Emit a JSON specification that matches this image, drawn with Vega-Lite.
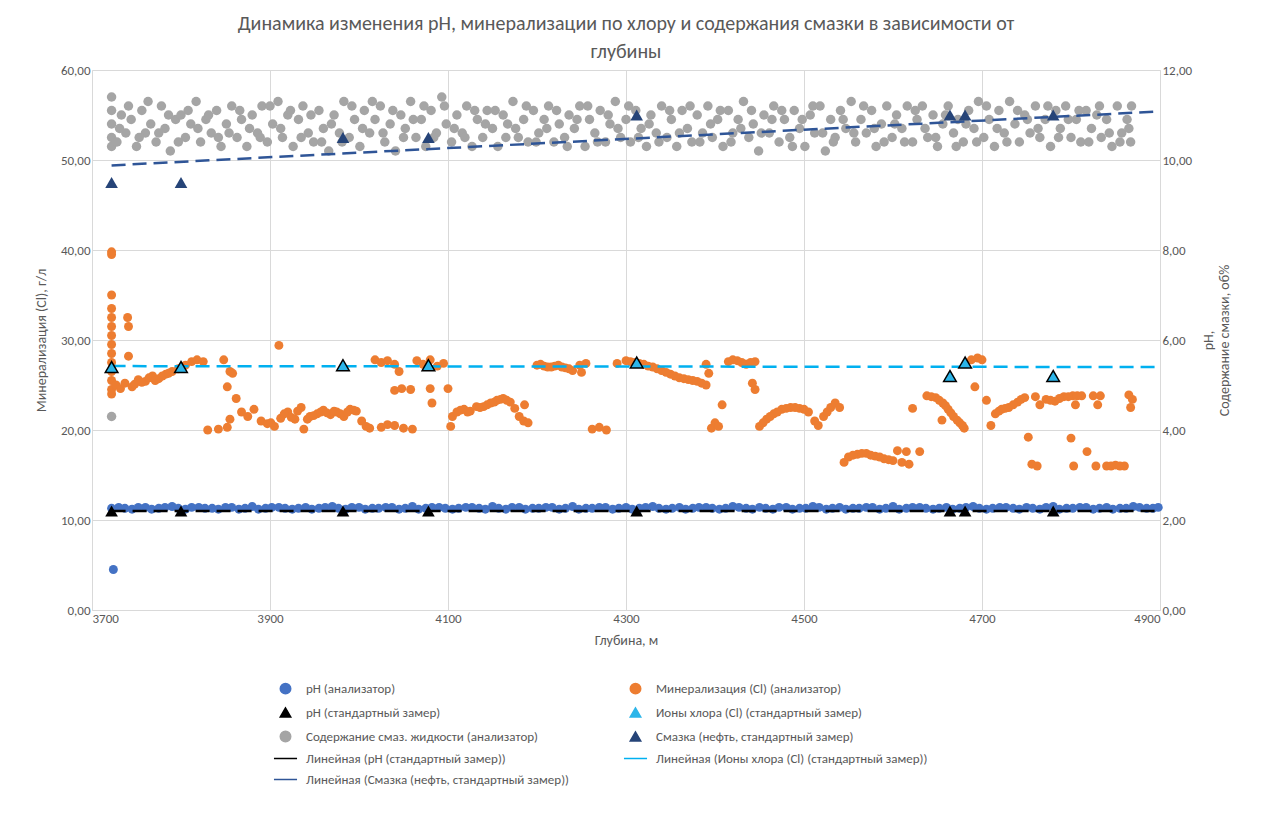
{
  "$schema": "https://vega.github.io/schema/vega-lite/v6.json",
  "width": 1068,
  "height": 540,
  "autosize": {"type": "none"},
  "padding": {"left": 92, "top": 70, "right": 120, "bottom": 222},
  "background": "white",
  "config": {
    "font": "Calibri, Liberation Sans, sans-serif",
    "view": {"stroke": null},
    "axis": {"labelColor": "#595959", "titleColor": "#595959", "labelFontSize": 13, "titleFontSize": 14, "titleFontWeight": "normal", "domainColor": "#D9D9D9", "tickColor": "#D9D9D9", "gridColor": "#D9D9D9", "ticks": false},
    "legend": {"orient": "none", "legendX": 187, "legendY": 612, "columns": 2, "columnPadding": 50, "rowPadding": 7, "labelFontSize": 13, "labelColor": "#595959", "labelLimit": 400, "symbolSize": 110, "labelOffset": 14, "title": null}
  },
  "title": {
    "text": ["Динамика изменения pH, минерализации по хлору и содержания смазки в зависимости от", "глубины"],
    "fontSize": 20, "fontWeight": "normal", "color": "#595959", "lineHeight": 28, "offset": 2, "anchor": "middle"
  },
  "datasets": {
    "ph": [
      {"d":3722,"v":11.3},{"d":3724,"v":4.5},{"d":3730,"v":11.4},{"d":3745,"v":11.2},{"d":3760,"v":11.4},{"d":3775,"v":11.3},{"d":3790,"v":11.5},{"d":3805,"v":11.2},{"d":3820,"v":11.4},{"d":3835,"v":11.3},{"d":3850,"v":11.4},{"d":3865,"v":11.2},{"d":3880,"v":11.5},{"d":3895,"v":11.3},{"d":3910,"v":11.4},{"d":3925,"v":11.2},{"d":3940,"v":11.4},{"d":3955,"v":11.3},{"d":3970,"v":11.5},{"d":3985,"v":11.2},{"d":4000,"v":11.4},{"d":4015,"v":11.3},{"d":4030,"v":11.4},{"d":4045,"v":11.2},{"d":4060,"v":11.5},{"d":4075,"v":11.3},{"d":4090,"v":11.4},{"d":4105,"v":11.2},{"d":4120,"v":11.4},{"d":4135,"v":11.3},{"d":4150,"v":11.5},{"d":4165,"v":11.2},{"d":4180,"v":11.4},{"d":4195,"v":11.3},{"d":4210,"v":11.4},{"d":4225,"v":11.2},{"d":4240,"v":11.5},{"d":4255,"v":11.3},{"d":4270,"v":11.4},{"d":4285,"v":11.2},{"d":4300,"v":11.4},{"d":4315,"v":11.3},{"d":4330,"v":11.5},{"d":4345,"v":11.2},{"d":4360,"v":11.4},{"d":4375,"v":11.3},{"d":4390,"v":11.4},{"d":4405,"v":11.2},{"d":4420,"v":11.5},{"d":4435,"v":11.3},{"d":4450,"v":11.4},{"d":4465,"v":11.2},{"d":4480,"v":11.4},{"d":4495,"v":11.3},{"d":4510,"v":11.5},{"d":4525,"v":11.2},{"d":4540,"v":11.4},{"d":4555,"v":11.3},{"d":4570,"v":11.4},{"d":4585,"v":11.2},{"d":4600,"v":11.5},{"d":4615,"v":11.3},{"d":4630,"v":11.4},{"d":4645,"v":11.2},{"d":4660,"v":11.4},{"d":4675,"v":11.3},{"d":4690,"v":11.5},{"d":4705,"v":11.2},{"d":4720,"v":11.4},{"d":4735,"v":11.3},{"d":4750,"v":11.4},{"d":4765,"v":11.2},{"d":4780,"v":11.5},{"d":4795,"v":11.3},{"d":4810,"v":11.4},{"d":4825,"v":11.2},{"d":4840,"v":11.4},{"d":4855,"v":11.3},{"d":4870,"v":11.5},{"d":4885,"v":11.3},{"d":4898,"v":11.4},
      {"d":3737,"v":11.3},{"d":3752,"v":11.4},{"d":3767,"v":11.2},{"d":3782,"v":11.4},{"d":3797,"v":11.3},{"d":3812,"v":11.4},{"d":3827,"v":11.3},{"d":3842,"v":11.2},{"d":3857,"v":11.4},{"d":3872,"v":11.3},{"d":3887,"v":11.2},{"d":3902,"v":11.4},{"d":3917,"v":11.3},{"d":3932,"v":11.3},{"d":3947,"v":11.2},{"d":3962,"v":11.4},{"d":3977,"v":11.3},{"d":3992,"v":11.4},{"d":4007,"v":11.2},{"d":4022,"v":11.3},{"d":4037,"v":11.4},{"d":4052,"v":11.3},{"d":4067,"v":11.2},{"d":4082,"v":11.4},{"d":4097,"v":11.3},{"d":4112,"v":11.3},{"d":4127,"v":11.4},{"d":4142,"v":11.2},{"d":4157,"v":11.3},{"d":4172,"v":11.4},{"d":4187,"v":11.2},{"d":4202,"v":11.3},{"d":4217,"v":11.4},{"d":4232,"v":11.3},{"d":4247,"v":11.2},{"d":4262,"v":11.3},{"d":4277,"v":11.4},{"d":4292,"v":11.3},{"d":4307,"v":11.2},{"d":4322,"v":11.4},{"d":4337,"v":11.3},{"d":4352,"v":11.3},{"d":4367,"v":11.2},{"d":4382,"v":11.4},{"d":4397,"v":11.3},{"d":4412,"v":11.3},{"d":4427,"v":11.4},{"d":4442,"v":11.2},{"d":4457,"v":11.3},{"d":4472,"v":11.4},{"d":4487,"v":11.2},{"d":4502,"v":11.3},{"d":4517,"v":11.4},{"d":4532,"v":11.3},{"d":4547,"v":11.2},{"d":4562,"v":11.3},{"d":4577,"v":11.4},{"d":4592,"v":11.3},{"d":4607,"v":11.2},{"d":4622,"v":11.4},{"d":4637,"v":11.3},{"d":4652,"v":11.3},{"d":4667,"v":11.2},{"d":4682,"v":11.4},{"d":4697,"v":11.3},{"d":4712,"v":11.3},{"d":4727,"v":11.4},{"d":4742,"v":11.2},{"d":4757,"v":11.3},{"d":4772,"v":11.4},{"d":4787,"v":11.2},{"d":4802,"v":11.3},{"d":4817,"v":11.4},{"d":4832,"v":11.3},{"d":4847,"v":11.2},{"d":4862,"v":11.3},{"d":4877,"v":11.4},{"d":4892,"v":11.3}
    ],
    "min": [
      {"d":3722,"v":39.8},{"d":3722,"v":39.5},{"d":3722,"v":35},{"d":3722,"v":33.5},{"d":3722,"v":32.5},{"d":3722,"v":31.5},{"d":3722,"v":30.5},{"d":3722,"v":29.5},{"d":3722,"v":28.5},{"d":3722,"v":27.5},{"d":3722,"v":26.5},{"d":3722,"v":25.5},{"d":3722,"v":24.5},{"d":3722,"v":24},
      {"d":3727,"v":25},{"d":3732,"v":24.6},{"d":3737,"v":25.2},{"d":3740,"v":32.5},{"d":3741,"v":31.5},{"d":3741,"v":28.2},{"d":3745,"v":24.8},{"d":3752,"v":25.6},{"d":3760,"v":25.4},{"d":3768,"v":26},{"d":3775,"v":25.7},{"d":3783,"v":26.2},{"d":3790,"v":26.5},{"d":3797,"v":26.8},{"d":3805,"v":27.2},{"d":3812,"v":27.6},{"d":3818,"v":27.8},{"d":3825,"v":27.6},{"d":3830,"v":20},{"d":3842,"v":20.1},{"d":3848,"v":27.8},{"d":3852,"v":20.3},{"d":3855,"v":26.5},{"d":3858,"v":26.3},{"d":3852,"v":24.8},{"d":3855,"v":21.2},{"d":3862,"v":23.5},{"d":3868,"v":22},{"d":3875,"v":21.5},{"d":3882,"v":22.3},{"d":3890,"v":21},{"d":3897,"v":20.7},{"d":3905,"v":20.4},{"d":3910,"v":29.4},{"d":3912,"v":21.3},{"d":3920,"v":22},{"d":3928,"v":21.2},{"d":3935,"v":22.5},{"d":3938,"v":20.1},{"d":3945,"v":21.5},{"d":3953,"v":21.8},{"d":3960,"v":22.2},{"d":3968,"v":21.7},{"d":3975,"v":22},{"d":3983,"v":21.5},{"d":3990,"v":22.3},{"d":3997,"v":22.1},{"d":4003,"v":21},{"d":4008,"v":20.4},{"d":4012,"v":20.2},{"d":4018,"v":27.8},{"d":4025,"v":27.5},{"d":4032,"v":27.7},{"d":4040,"v":27.3},{"d":4045,"v":26.5},{"d":4040,"v":24.4},{"d":4048,"v":24.6},{"d":4058,"v":24.5},{"d":4025,"v":20.3},{"d":4032,"v":20.6},{"d":4040,"v":20.5},{"d":4050,"v":20.2},{"d":4060,"v":20.1},{"d":4065,"v":27.7},{"d":4072,"v":27.3},{"d":4080,"v":27.8},{"d":4080,"v":24.6},{"d":4082,"v":23},{"d":4088,"v":27.1},{"d":4095,"v":27.4},{"d":4100,"v":24.6},{"d":4103,"v":20.4},{"d":4105,"v":21.5},{"d":4110,"v":22},{"d":4118,"v":22.3},{"d":4125,"v":22.1},{"d":4132,"v":22.6},{"d":4140,"v":22.6},{"d":4148,"v":23},{"d":4155,"v":23.3},{"d":4162,"v":23.5},{"d":4170,"v":23.1},{"d":4175,"v":22.4},{"d":4180,"v":21.5},{"d":4185,"v":21},{"d":4190,"v":20.8},{"d":4186,"v":22.8},{"d":4200,"v":27.2},{"d":4208,"v":27.1},{"d":4216,"v":27},{"d":4224,"v":27.2},{"d":4232,"v":26.9},{"d":4240,"v":26.6},{"d":4248,"v":27.2},{"d":4255,"v":27.4},{"d":4250,"v":26.4},{"d":4262,"v":20.1},{"d":4270,"v":20.3},{"d":4278,"v":20},{"d":4290,"v":27.4},{"d":4300,"v":27.7},{"d":4310,"v":27.5},{"d":4320,"v":27.3},{"d":4330,"v":27},{"d":4340,"v":26.6},{"d":4350,"v":26.2},{"d":4360,"v":25.8},{"d":4370,"v":25.6},{"d":4380,"v":25.4},{"d":4390,"v":25},{"d":4390,"v":27.3},{"d":4393,"v":26.3},{"d":4396,"v":20.2},{"d":4400,"v":20.8},{"d":4404,"v":20.4},{"d":4408,"v":22.8},{"d":4415,"v":27.6},{"d":4425,"v":27.7},{"d":4435,"v":27.3},{"d":4445,"v":27.6},{"d":4442,"v":25.2},{"d":4445,"v":24.5},{"d":4450,"v":20.4},{"d":4458,"v":21.2},{"d":4466,"v":21.8},{"d":4475,"v":22.3},{"d":4485,"v":22.5},{"d":4495,"v":22.4},{"d":4505,"v":22},{"d":4512,"v":21},{"d":4516,"v":20.5},{"d":4522,"v":21.5},{"d":4530,"v":22.5},{"d":4535,"v":23},{"d":4540,"v":22.5},{"d":4545,"v":16.4},{"d":4550,"v":17},{"d":4560,"v":17.3},{"d":4570,"v":17.4},{"d":4580,"v":17.1},{"d":4590,"v":16.8},{"d":4600,"v":16.6},{"d":4610,"v":16.4},{"d":4618,"v":16.2},{"d":4605,"v":17.7},{"d":4615,"v":17.6},{"d":4630,"v":17.6},{"d":4622,"v":22.4},{"d":4638,"v":23.8},{"d":4648,"v":23.6},{"d":4656,"v":23},{"d":4662,"v":22.3},{"d":4668,"v":21.5},{"d":4675,"v":20.8},{"d":4680,"v":20.2},{"d":4655,"v":21.1},{"d":4688,"v":27.8},{"d":4695,"v":28},{"d":4700,"v":27.8},{"d":4692,"v":24.8},{"d":4705,"v":23.3},{"d":4710,"v":20.5},{"d":4715,"v":21.8},{"d":4722,"v":22.3},{"d":4730,"v":22.5},{"d":4740,"v":23.1},{"d":4748,"v":23.6},{"d":4752,"v":19.2},{"d":4756,"v":16.2},{"d":4762,"v":16},{"d":4760,"v":23.7},{"d":4765,"v":22.8},{"d":4772,"v":23.4},{"d":4782,"v":23.2},{"d":4792,"v":23.7},{"d":4802,"v":23.8},{"d":4812,"v":23.8},{"d":4805,"v":22.8},{"d":4800,"v":19.1},{"d":4803,"v":16},{"d":4818,"v":17.6},{"d":4825,"v":23.8},{"d":4830,"v":22.8},{"d":4833,"v":23.8},{"d":4828,"v":16},{"d":4840,"v":16},{"d":4850,"v":16.1},{"d":4860,"v":16},{"d":4865,"v":23.9},{"d":4867,"v":22.5},{"d":4869,"v":23.4},
      {"d":3748,"v":25.1},{"d":3756,"v":25.3},{"d":3764,"v":25.8},{"d":3771,"v":25.5},{"d":3779,"v":26},{"d":3786,"v":26.3},{"d":3901,"v":20.8},{"d":3916,"v":21.8},{"d":3924,"v":21.4},{"d":3931,"v":22.1},{"d":3942,"v":21.2},{"d":3949,"v":21.6},{"d":3957,"v":22},{"d":3964,"v":21.9},{"d":3972,"v":22.1},{"d":3979,"v":21.8},{"d":3987,"v":22},{"d":3994,"v":22.2},{"d":4114,"v":22.2},{"d":4122,"v":22},{"d":4136,"v":22.5},{"d":4144,"v":22.8},{"d":4152,"v":23.1},{"d":4159,"v":23.4},{"d":4166,"v":23.3},{"d":4204,"v":27.3},{"d":4212,"v":27},{"d":4220,"v":27.1},{"d":4228,"v":27},{"d":4236,"v":26.8},{"d":4305,"v":27.6},{"d":4315,"v":27.4},{"d":4325,"v":27.1},{"d":4335,"v":26.8},{"d":4345,"v":26.4},{"d":4355,"v":26},{"d":4365,"v":25.7},{"d":4375,"v":25.5},{"d":4385,"v":25.2},{"d":4420,"v":27.8},{"d":4430,"v":27.5},{"d":4440,"v":27.5},{"d":4454,"v":20.8},{"d":4462,"v":21.5},{"d":4470,"v":22},{"d":4480,"v":22.4},{"d":4490,"v":22.5},{"d":4500,"v":22.3},{"d":4526,"v":22},{"d":4555,"v":17.2},{"d":4565,"v":17.4},{"d":4575,"v":17.2},{"d":4585,"v":17},{"d":4595,"v":16.7},{"d":4643,"v":23.7},{"d":4652,"v":23.3},{"d":4659,"v":22.7},{"d":4665,"v":21.9},{"d":4672,"v":21.1},{"d":4678,"v":20.5},{"d":4719,"v":22.1},{"d":4726,"v":22.4},{"d":4735,"v":22.8},{"d":4744,"v":23.4},{"d":4777,"v":23.3},{"d":4787,"v":23.5},{"d":4797,"v":23.7},{"d":4807,"v":23.8},{"d":4845,"v":16},{"d":4855,"v":16}
    ],
    "grey": [
      {"d":3722,"v":11.4},{"d":3722,"v":11.1},{"d":3722,"v":10.8},{"d":3722,"v":10.5},{"d":3722,"v":10.3},{"d":3722,"v":4.3},{"d":3728,"v":10.4},{"d":3733,"v":11.0},{"d":3738,"v":10.6},{"d":3744,"v":10.9},{"d":3750,"v":10.3},{"d":3756,"v":11.1},{"d":3760,"v":10.6},{"d":3766,"v":10.8},{"d":3772,"v":10.4},{"d":3778,"v":11.2},{"d":3782,"v":10.7},{"d":3788,"v":10.2},{"d":3794,"v":10.9},{"d":3800,"v":11.0},{"d":3805,"v":10.5},{"d":3811,"v":10.8},{"d":3817,"v":11.3},{"d":3822,"v":10.4},{"d":3828,"v":10.9},{"d":3834,"v":10.6},{"d":3840,"v":11.1},{"d":3845,"v":10.3},{"d":3851,"v":10.8},{"d":3857,"v":11.2},{"d":3863,"v":10.5},{"d":3868,"v":10.9},{"d":3874,"v":10.3},{"d":3880,"v":11.0},{"d":3886,"v":10.6},{"d":3891,"v":11.2},{"d":3897,"v":10.4},{"d":3903,"v":10.8},{"d":3909,"v":11.3},{"d":3914,"v":10.5},{"d":3920,"v":11.0},{"d":3926,"v":10.3},{"d":3932,"v":10.9},{"d":3937,"v":11.2},{"d":3943,"v":10.6},{"d":3949,"v":10.4},{"d":3955,"v":11.1},{"d":3960,"v":10.7},{"d":3966,"v":10.2},{"d":3972,"v":11.0},{"d":3978,"v":10.6},{"d":3983,"v":11.3},{"d":3989,"v":10.5},{"d":3995,"v":10.9},{"d":4001,"v":10.3},{"d":4006,"v":11.1},{"d":4012,"v":10.6},{"d":4018,"v":10.9},{"d":4024,"v":11.2},{"d":4029,"v":10.4},{"d":4035,"v":10.8},{"d":4041,"v":10.2},{"d":4047,"v":11.0},{"d":4052,"v":10.7},{"d":4058,"v":11.3},{"d":4064,"v":10.5},{"d":4070,"v":10.9},{"d":4075,"v":10.3},{"d":4081,"v":11.1},{"d":4087,"v":10.6},{"d":4093,"v":11.4},{"d":4098,"v":10.8},{"d":4104,"v":10.4},{"d":4110,"v":11.0},{"d":4116,"v":10.6},{"d":4121,"v":11.2},{"d":4127,"v":10.3},{"d":4133,"v":10.9},{"d":4139,"v":10.5},{"d":4144,"v":11.1},{"d":4150,"v":10.7},{"d":4156,"v":10.3},{"d":4162,"v":11.0},{"d":4167,"v":10.8},{"d":4173,"v":11.3},{"d":4179,"v":10.5},{"d":4185,"v":10.9},{"d":4190,"v":10.4},{"d":4196,"v":11.1},{"d":4202,"v":10.6},{"d":4208,"v":10.9},{"d":4213,"v":11.2},{"d":4219,"v":10.4},{"d":4225,"v":10.8},{"d":4231,"v":10.5},{"d":4236,"v":11.0},{"d":4242,"v":10.7},{"d":4248,"v":11.2},{"d":4254,"v":10.3},{"d":4259,"v":10.9},{"d":4265,"v":10.6},{"d":4271,"v":11.1},{"d":4277,"v":10.4},{"d":4282,"v":10.8},{"d":4288,"v":11.3},{"d":4294,"v":10.5},{"d":4300,"v":10.9},{"d":4305,"v":10.4},{"d":4311,"v":11.1},{"d":4317,"v":10.7},{"d":4323,"v":10.3},{"d":4328,"v":11.0},{"d":4334,"v":10.6},{"d":4340,"v":11.2},{"d":4346,"v":10.5},{"d":4351,"v":10.9},{"d":4357,"v":10.3},{"d":4363,"v":11.1},{"d":4369,"v":10.7},{"d":4374,"v":10.4},{"d":4380,"v":11.0},{"d":4386,"v":10.6},{"d":4392,"v":11.2},{"d":4397,"v":10.5},{"d":4403,"v":10.9},{"d":4409,"v":10.3},{"d":4415,"v":11.1},{"d":4420,"v":10.6},{"d":4426,"v":10.9},{"d":4432,"v":11.3},{"d":4438,"v":10.5},{"d":4443,"v":10.8},{"d":4449,"v":10.2},{"d":4455,"v":11.0},{"d":4461,"v":10.6},{"d":4466,"v":11.2},{"d":4472,"v":10.4},{"d":4478,"v":10.9},{"d":4484,"v":10.5},{"d":4489,"v":11.1},{"d":4495,"v":10.7},{"d":4501,"v":10.3},{"d":4507,"v":11.0},{"d":4512,"v":10.6},{"d":4518,"v":11.2},{"d":4524,"v":10.2},{"d":4530,"v":10.9},{"d":4535,"v":10.5},{"d":4541,"v":11.1},{"d":4547,"v":10.7},{"d":4553,"v":11.3},{"d":4558,"v":10.4},{"d":4564,"v":10.9},{"d":4570,"v":10.6},{"d":4576,"v":11.1},{"d":4581,"v":10.3},{"d":4587,"v":10.8},{"d":4593,"v":11.2},{"d":4599,"v":10.5},{"d":4604,"v":11.0},{"d":4610,"v":10.7},{"d":4616,"v":11.2},{"d":4622,"v":10.4},{"d":4627,"v":10.9},{"d":4633,"v":11.2},{"d":4639,"v":10.5},{"d":4645,"v":11.0},{"d":4650,"v":10.3},{"d":4656,"v":10.8},{"d":4662,"v":11.2},{"d":4668,"v":10.6},{"d":4673,"v":10.9},{"d":4679,"v":10.4},{"d":4685,"v":11.1},{"d":4691,"v":10.7},{"d":4696,"v":11.3},{"d":4702,"v":10.5},{"d":4708,"v":10.9},{"d":4714,"v":10.3},{"d":4719,"v":11.1},{"d":4725,"v":10.6},{"d":4731,"v":11.3},{"d":4737,"v":10.8},{"d":4742,"v":10.4},{"d":4748,"v":11.0},{"d":4754,"v":10.6},{"d":4760,"v":11.2},{"d":4765,"v":10.5},{"d":4771,"v":10.9},{"d":4777,"v":10.3},{"d":4783,"v":11.1},{"d":4788,"v":10.7},{"d":4794,"v":11.2},{"d":4800,"v":10.5},{"d":4806,"v":10.9},{"d":4811,"v":10.4},{"d":4817,"v":11.1},{"d":4823,"v":10.7},{"d":4829,"v":11.0},{"d":4834,"v":10.5},{"d":4840,"v":10.9},{"d":4846,"v":10.3},{"d":4852,"v":11.2},{"d":4857,"v":10.6},{"d":4863,"v":10.9},{"d":4867,"v":10.4},{"d":4868,"v":11.2},
      {"d":3731,"v":10.7},{"d":3741,"v":11.2},{"d":3753,"v":10.5},{"d":3763,"v":11.3},{"d":3775,"v":10.6},{"d":3786,"v":11.0},{"d":3797,"v":10.4},{"d":3808,"v":11.1},{"d":3819,"v":10.7},{"d":3831,"v":11.0},{"d":3842,"v":10.5},{"d":3854,"v":10.6},{"d":3866,"v":11.1},{"d":3877,"v":10.7},{"d":3889,"v":10.5},{"d":3900,"v":11.2},{"d":3912,"v":10.7},{"d":3923,"v":11.1},{"d":3935,"v":10.5},{"d":3946,"v":11.0},{"d":3958,"v":10.4},{"d":3969,"v":10.8},{"d":3981,"v":10.4},{"d":3992,"v":11.2},{"d":4004,"v":10.7},{"d":4015,"v":11.3},{"d":4027,"v":10.6},{"d":4038,"v":11.1},{"d":4050,"v":10.5},{"d":4061,"v":10.9},{"d":4073,"v":11.2},{"d":4084,"v":10.5},{"d":4096,"v":11.2},{"d":4107,"v":10.7},{"d":4119,"v":10.5},{"d":4130,"v":11.1},{"d":4142,"v":10.8},{"d":4153,"v":11.1},{"d":4165,"v":10.5},{"d":4176,"v":10.7},{"d":4188,"v":11.2},{"d":4199,"v":10.4},{"d":4211,"v":10.7},{"d":4222,"v":11.1},{"d":4234,"v":10.3},{"d":4245,"v":10.9},{"d":4257,"v":11.2},{"d":4268,"v":10.4},{"d":4280,"v":11.0},{"d":4291,"v":10.7},{"d":4303,"v":11.2},{"d":4314,"v":10.5},{"d":4326,"v":10.8},{"d":4337,"v":10.4},{"d":4349,"v":11.1},{"d":4360,"v":10.6},{"d":4372,"v":11.2},{"d":4383,"v":10.4},{"d":4395,"v":10.8},{"d":4406,"v":11.1},{"d":4418,"v":10.4},{"d":4429,"v":10.7},{"d":4441,"v":11.1},{"d":4452,"v":10.6},{"d":4464,"v":10.9},{"d":4475,"v":11.1},{"d":4487,"v":10.3},{"d":4498,"v":10.9},{"d":4510,"v":11.2},{"d":4521,"v":10.6},{"d":4533,"v":10.4},{"d":4544,"v":10.9},{"d":4556,"v":10.6},{"d":4567,"v":11.2},{"d":4579,"v":10.7},{"d":4590,"v":10.4},{"d":4602,"v":10.8},{"d":4613,"v":10.4},{"d":4625,"v":11.1},{"d":4636,"v":10.7},{"d":4648,"v":10.5},{"d":4659,"v":11.0},{"d":4671,"v":10.3},{"d":4682,"v":10.8},{"d":4694,"v":10.4},{"d":4705,"v":11.2},{"d":4717,"v":10.7},{"d":4728,"v":10.4},{"d":4740,"v":11.1},{"d":4751,"v":10.9},{"d":4763,"v":10.7},{"d":4774,"v":11.2},{"d":4786,"v":10.5},{"d":4797,"v":10.9},{"d":4809,"v":11.1},{"d":4820,"v":10.4},{"d":4832,"v":11.2},{"d":4843,"v":10.6},{"d":4855,"v":10.4},{"d":4865,"v":10.7}
    ],
    "phStd": [{"d":3722,"v":11},{"d":3800,"v":11},{"d":3982,"v":11},{"d":4078,"v":11},{"d":4312,"v":11},{"d":4664,"v":11},{"d":4681,"v":11},{"d":4780,"v":11}],
    "cl": [{"d":3722,"v":27},{"d":3800,"v":27},{"d":3982,"v":27.2},{"d":4078,"v":27.2},{"d":4312,"v":27.5},{"d":4664,"v":26},{"d":4681,"v":27.5},{"d":4780,"v":26}],
    "oil": [{"d":3722,"v":9.5},{"d":3800,"v":9.5},{"d":3982,"v":10.5},{"d":4078,"v":10.5},{"d":4312,"v":11},{"d":4664,"v":11},{"d":4681,"v":11},{"d":4780,"v":11}],
    "phTr": [{"d":3722,"v":11},{"d":4900,"v":11}],
    "clTr": [{"d":3722,"v":27.1},{"d":4900,"v":27}],
    "oilTr": [{"d":3722,"v":9.88},{"d":4900,"v":11.08}]
  },
  "encoding": {
    "x": {"field": "d", "type": "quantitative", "title": "Глубина, м",
      "scale": {"domain": [3700, 4900], "nice": false},
      "axis": {"values": [3700, 3900, 4100, 4300, 4500, 4700, 4900], "format": "d", "grid": true, "titlePadding": 8}}
  },
  "layer": [
    {
      "encoding": {
        "y": {"field": "v", "type": "quantitative", "title": "Минерализация (Cl), г/л",
          "scale": {"domain": [0, 60], "nice": false},
          "axis": {"values": [0, 10, 20, 30, 40, 50, 60], "labelExpr": "replace(format(datum.value, '.2f'), '.', ',')", "grid": true, "titlePadding": 12}}
      },
      "layer": [
        {"data": {"name": "ph"}, "mark": {"type": "point", "filled": true, "size": 80, "opacity": 1},
          "encoding": {
            "color": {"datum": "pH (анализатор)",
              "scale": {
                "domain": ["pH (анализатор)", "pH (стандартный замер)", "Содержание смаз. жидкости (анализатор)", "Линейная (pH (стандартный замер))", "Линейная (Смазка (нефть, стандартный замер))", "Минерализация (Cl) (анализатор)", "Ионы хлора (Cl) (стандартный замер)", "Смазка (нефть, стандартный замер)", "Линейная (Ионы хлора (Cl) (стандартный замер))"],
                "range": ["#4472C4", "#000000", "#A5A5A5", "#000000", "#2F5597", "#ED7D31", "#2CB5E9", "#264478", "#00B0F0"]},
              "legend": {
                "symbolType": "circle",
                "encode": {"symbols": {"update": {
                  "stroke": {"scale": "color", "field": "value"},
                  "strokeWidth": {"signal": "indexof(datum.value, 'Линейная') == 0 ? 2.5 : 0"},
                  "strokeDash": {"signal": "indexof(datum.value, 'Линейная') == 0 ? [12, 5] : [1, 0]"}
                }}}
              }},
            "shape": {"datum": "pH (анализатор)",
              "scale": {
                "domain": ["pH (анализатор)", "pH (стандартный замер)", "Содержание смаз. жидкости (анализатор)", "Линейная (pH (стандартный замер))", "Линейная (Смазка (нефть, стандартный замер))", "Минерализация (Cl) (анализатор)", "Ионы хлора (Cl) (стандартный замер)", "Смазка (нефть, стандартный замер)", "Линейная (Ионы хлора (Cl) (стандартный замер))"],
                "range": ["circle", "triangle-up", "circle", "M-2.2,0L2.2,0", "M-2.2,0L2.2,0", "circle", "triangle-up", "triangle-up", "M-2.2,0L2.2,0"]}}}},
        {"data": {"name": "min"}, "mark": {"type": "point", "filled": true, "size": 80, "opacity": 1},
          "encoding": {"color": {"datum": "Минерализация (Cl) (анализатор)"}, "shape": {"datum": "Минерализация (Cl) (анализатор)"}}},
        {"data": {"name": "phTr"}, "mark": {"type": "line", "strokeDash": [14, 7], "strokeWidth": 2.5},
          "encoding": {"color": {"datum": "Линейная (pH (стандартный замер))"}}},
        {"data": {"name": "clTr"}, "mark": {"type": "line", "strokeDash": [14, 7], "strokeWidth": 2.5},
          "encoding": {"color": {"datum": "Линейная (Ионы хлора (Cl) (стандартный замер))"}}},
        {"data": {"name": "phStd"}, "mark": {"type": "point", "filled": true, "size": 160, "opacity": 1},
          "encoding": {"color": {"datum": "pH (стандартный замер)"}, "shape": {"datum": "pH (стандартный замер)"}}},
        {"data": {"name": "cl"}, "mark": {"type": "point", "filled": true, "size": 160, "opacity": 1, "stroke": "black", "strokeWidth": 1.5},
          "encoding": {"color": {"datum": "Ионы хлора (Cl) (стандартный замер)"}, "shape": {"datum": "Ионы хлора (Cl) (стандартный замер)"}}}
      ]
    },
    {
      "encoding": {
        "y": {"field": "v", "type": "quantitative", "title": ["pH,", "Содержание смазки, об%"],
          "scale": {"domain": [0, 12], "nice": false},
          "axis": {"orient": "right", "values": [0, 2, 4, 6, 8, 10, 12], "labelExpr": "replace(format(datum.value, '.2f'), '.', ',')", "grid": false, "titleAngle": 270, "titlePadding": 8}}
      },
      "layer": [
        {"data": {"name": "grey"}, "mark": {"type": "point", "filled": true, "size": 90, "opacity": 1},
          "encoding": {"color": {"datum": "Содержание смаз. жидкости (анализатор)"}, "shape": {"datum": "Содержание смаз. жидкости (анализатор)"}}},
        {"data": {"name": "oilTr"}, "mark": {"type": "line", "strokeDash": [14, 7], "strokeWidth": 2.5},
          "encoding": {"color": {"datum": "Линейная (Смазка (нефть, стандартный замер))"}}},
        {"data": {"name": "oil"}, "mark": {"type": "point", "filled": true, "size": 160, "opacity": 1},
          "encoding": {"color": {"datum": "Смазка (нефть, стандартный замер)"}, "shape": {"datum": "Смазка (нефть, стандартный замер)"}}}
      ]
    }
  ],
  "resolve": {"scale": {"y": "independent"}, "axis": {"y": "independent"}}
}
